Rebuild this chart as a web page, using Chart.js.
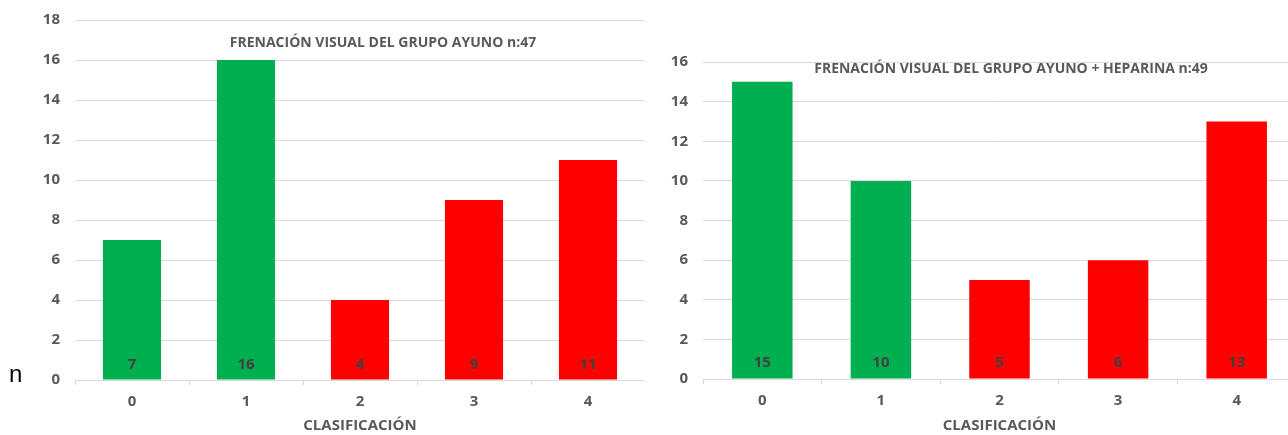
<!DOCTYPE html>
<html>
<head>
<meta charset="utf-8">
<script src="https://cdn.jsdelivr.net/npm/chart.js@4.4.1/dist/chart.umd.min.js"></script>
<style>
  html, body { margin: 0; padding: 0; background: #fff; overflow: hidden; width: 1288px; height: 435px; }
  #leftWrap { position: absolute; left: 0; top: -4px; width: 645px; height: 439px; }
  #rightWrap { position: absolute; left: 640px; top: 0; width: 660px; height: 435px; }
  #nLabel { position: absolute; left: 9px; top: 360px; font: 24px 'Liberation Sans', Arial, sans-serif; color: #000; }
</style>
</head>
<body>
<div id="leftWrap"><canvas id="ayunoChart"></canvas></div>
<div id="rightWrap"><canvas id="heparinaChart"></canvas></div>
<div id="nLabel">n</div>
<script>
const categories = ['0', '1', '2', '3', '4'];
const ayunoValues = [7, 16, 4, 9, 11];
const heparinaValues = [15, 10, 5, 6, 13];
const barColors = ['#00B050', '#00B050', '#FF0000', '#FF0000', '#FF0000'];
const ayunoTitle = 'FRENACIÓN VISUAL DEL GRUPO AYUNO n:47';
const heparinaTitle = 'FRENACIÓN VISUAL DEL GRUPO AYUNO + HEPARINA n:49';
const xTitle = 'CLASIFICACIÓN';

const FONT = "'Open Sans', sans-serif";
const GREY = '#595959';

// value labels near the base of each bar + floating chart title
const barTextPlugin = {
  id: 'barText',
  afterDraw(chart, args, opts) {
    const c = chart.ctx;
    c.save();
    c.textAlign = 'center';
    c.textBaseline = 'middle';
    c.fillStyle = '#404040';
    c.font = 'bold 15px ' + FONT;
    const meta = chart.getDatasetMeta(0);
    meta.data.forEach(function (bar, i) {
      c.fillText(String(chart.data.datasets[0].data[i]), bar.x, bar.base - opts.labelOffset);
    });
    c.fillStyle = GREY;
    c.font = 'bold 14px ' + FONT;
    c.fillText(opts.title, opts.titleX, opts.titleY);
    c.restore();
  }
};

function makeChart(id, values, yMax, title, layout) {
  return new Chart(document.getElementById(id), {
    type: 'bar',
    data: {
      labels: categories,
      datasets: [{
        data: values,
        backgroundColor: barColors,
        barPercentage: 0.51,
        categoryPercentage: 1
      }]
    },
    options: {
      responsive: true,
      maintainAspectRatio: false,
      animation: false,
      layout: { padding: { top: layout.top, right: layout.right, left: 0, bottom: 0 } },
      scales: {
        y: {
          min: 0,
          max: yMax,
          border: { display: false },
          grid: { color: '#d9d9d9', drawTicks: false },
          ticks: { stepSize: 2, padding: 15, color: GREY, font: { family: FONT, size: 15, weight: 'bold' } },
          afterFit: function (s) { s.width = layout.yWidth; }
        },
        x: {
          z: 1,
          border: { display: true, color: '#d9d9d9' },
          grid: { drawOnChartArea: false, drawTicks: true, tickLength: 5, color: '#d9d9d9' },
          ticks: { padding: 8, color: GREY, font: { family: FONT, size: 15, weight: 'bold' } },
          title: { display: true, text: xTitle, color: GREY, padding: { top: 0, bottom: 0 }, font: { family: FONT, size: 15, weight: 'bold' } },
          afterFit: function (s) { s.height = layout.xHeight; }
        }
      },
      plugins: {
        legend: { display: false },
        tooltip: { enabled: false },
        barText: { title: title, titleX: layout.titleX, titleY: layout.titleY, labelOffset: layout.labelOffset }
      }
    },
    plugins: [barTextPlugin]
  });
}

// left canvas is shifted up 4px in the page, so its coordinates are +4
makeChart('ayunoChart', ayunoValues, 18, ayunoTitle,
  { top: 20, right: 0, yWidth: 75, xHeight: 55, titleX: 383, titleY: 47, labelOffset: 15 });
makeChart('heparinaChart', heparinaValues, 16, heparinaTitle,
  { top: 62, right: 4, yWidth: 63, xHeight: 56, titleX: 371, titleY: 69, labelOffset: 16 });
</script>
</body>
</html>
